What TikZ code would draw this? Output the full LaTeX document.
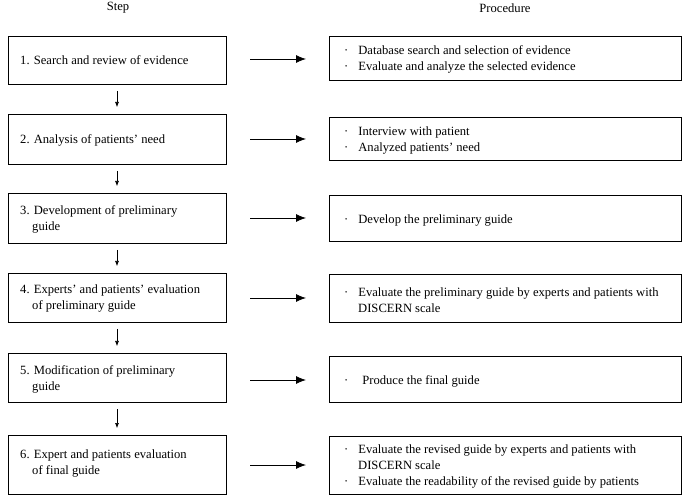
\documentclass[tikz,border=0pt]{standalone}
\usepackage{fontspec}
\setmainfont{Liberation Serif}
\usetikzlibrary{arrows.meta}
\begin{document}
\begin{tikzpicture}[x=1pt,y=-1pt,
 box/.style={draw,line width=0.7pt},
 lt/.style={anchor=west,font=\fontsize{12.6}{16}\selectfont,align=left,inner sep=0pt},
 arr/.style={-{Latex[length=5pt,width=4pt]},line width=0.6pt},
 harr/.style={-{Latex[length=10pt,width=8pt]},line width=0.8pt}]
\useasboundingbox (0,0) rectangle (688,502);
\node[font=\fontsize{12.6}{16}\selectfont] (h1) at (118,8) {Step};
\node[font=\fontsize{12.6}{16}\selectfont] (h2) at (505,8) {Procedure};
\foreach \n/\a/\b in {1/36/84,2/114/164,3/193/243,4/273/322,5/353/402,6/435/494}{
  \draw[box] (8,\a) rectangle (226,\b);
  \coordinate (Lt\n) at (117,\a);
  \coordinate (Lb\n) at (117,\b);
}
\foreach \n/\a/\b in {1/36/80,2/117/160,3/195/241,4/274/322,5/356/402,6/436/494}{
  \draw[box] (329,\a) rectangle (681,\b);
}
\foreach \n/\y in {1/59,2/139,3/218,4/298,5/380,6/465}{
  \coordinate (As\n) at (250,\y); \coordinate (Ae\n) at (306,\y);
  \draw[harr] (As\n) -- (Ae\n);
}
\foreach \n/\m in {1/2,2/3,3/4,4/5,5/6}{
  \draw[arr] ([yshift=-7pt]Lb\n) -- ([yshift=7pt]Lt\m);
}
\node[lt] (t1) at (20,60) {1. Search and review of evidence};
\node[lt] (t2) at (20,140) {2. Analysis of patients' need};
\node[lt] (t3) at (20,219) {3. Development of preliminary\\\hspace*{12pt}guide};
\node[lt] (t4) at (20,298) {4. Experts' and patients' evaluation\\\hspace*{12pt}of preliminary guide};
\node[lt] (t5) at (20,379) {5. Modification of preliminary\\\hspace*{12pt}guide};
\node[lt] (t6) at (20,463) {6. Expert and patients evaluation\\\hspace*{12pt}of final guide};
\node[lt] (r1) at (344,59) {·\hspace{10pt}Database search and selection of evidence\\·\hspace{10pt}Evaluate and analyze the selected evidence};
\node[lt] (r2) at (344,140) {·\hspace{10pt}Interview with patient\\·\hspace{10pt}Analyzed patients' need};
\node[lt] (r3) at (344,220) {·\hspace{10pt}Develop the preliminary guide};
\node[lt] (r4) at (344,300) {·\hspace{10pt}Evaluate the preliminary guide by experts and patients with\\\hspace*{14pt}DISCERN scale};
\node[lt] (r5) at (344,381) {·\hspace{14pt}Produce the final guide};
\node[lt] (r6) at (344,466) {·\hspace{10pt}Evaluate the revised guide by experts and patients with\\\hspace*{14pt}DISCERN scale\\·\hspace{10pt}Evaluate the readability of the revised guide by patients};
\end{tikzpicture}
\end{document}
